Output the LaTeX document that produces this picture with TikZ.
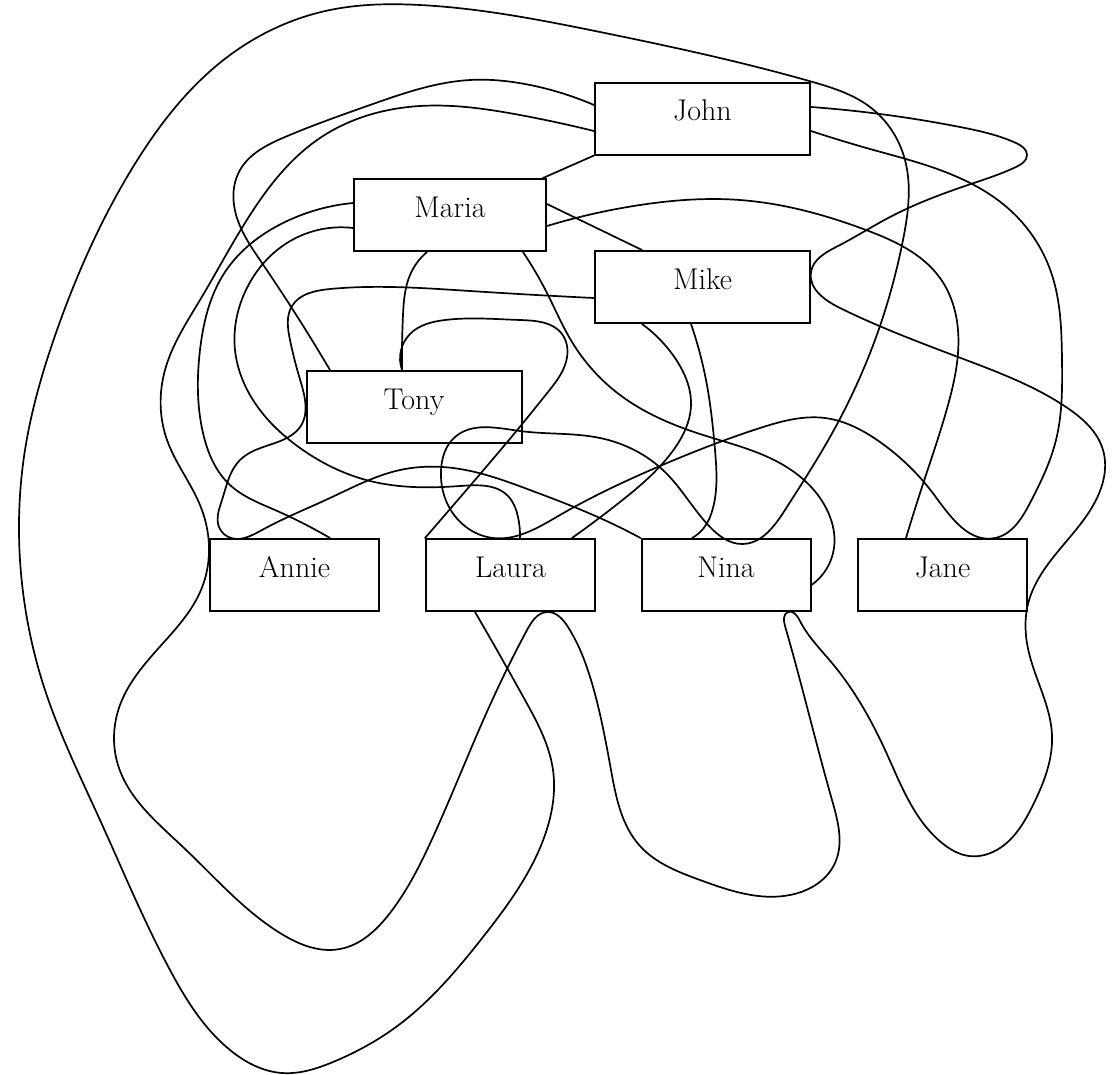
\documentclass[tikz,border=0pt]{standalone}
\usetikzlibrary{calc,hobby}
\begin{document}
\begin{tikzpicture}[x=1pt,y=-1pt,
  person/.style={draw, line width=2pt, inner sep=0pt, minimum height=72pt,
    text height=21pt, text depth=17pt, font=\fontsize{30}{32}\selectfont},
  wide/.style={person, minimum width=215pt},
  mid/.style={person, minimum width=192pt},
  narrow/.style={person, minimum width=169pt},
  edge/.style={line width=1.7pt, line join=round, line cap=round}]
\useasboundingbox (0,0) rectangle (1119,1074);

% people
\node[wide]   (John)  at (702.5,118.5) {John};
\node[mid]    (Maria) at (450,215)     {Maria};
\node[wide]   (Mike)  at (702.5,287)   {Mike};
\node[wide]   (Tony)  at (414,407)     {Tony};
\node[narrow] (Annie) at (294.5,575)   {Annie};
\node[narrow] (Laura) at (510.5,575)   {Laura};
\node[narrow] (Nina)  at (726,575)     {Nina};
\node[narrow] (Jane)  at (942.5,575)   {Jane};

% attachment points on the boxes
\coordinate (jW1) at (John.west |- 0,105);
\coordinate (jW2) at (John.west |- 0,131);
\coordinate (jE1) at (John.east |- 0,107);
\coordinate (jE2) at (John.east |- 0,131);
\coordinate (jSW) at (John.south west);
\coordinate (jNE) at (John.north east);
\coordinate (mN)  at (543,0 |- Maria.north);
\coordinate (mW1) at (Maria.west |- 0,203);
\coordinate (mW2) at (Maria.west |- 0,228);
\coordinate (mE1) at (Maria.east |- 0,204);
\coordinate (mE2) at (Maria.east |- 0,226);
\coordinate (mS1) at (427,0 |- Maria.south);
\coordinate (mS2) at (523,0 |- Maria.south);
\coordinate (kN)  at (642,0 |- Mike.north);
\coordinate (kW)  at (Mike.west |- 0,298);
\coordinate (kE)  at (Mike.east |- 0,272);
\coordinate (kS1) at (642,0 |- Mike.south);
\coordinate (kS2) at (691,0 |- Mike.south);
\coordinate (tN1) at (330,0 |- Tony.north);
\coordinate (tN2) at (402,0 |- Tony.north);
\coordinate (tW)  at (Tony.west |- 0,405);
\coordinate (aN1) at (231,0 |- Annie.north);
\coordinate (aN2) at (330,0 |- Annie.north);
\coordinate (aW)  at (Annie.west |- 0,553);
\coordinate (lNW) at (Laura.north west);
\coordinate (lN1) at (493,0 |- Laura.north);
\coordinate (lN2) at (520,0 |- Laura.north);
\coordinate (lN3) at (572,0 |- Laura.north);
\coordinate (lS1) at (475,0 |- Laura.south);
\coordinate (lS2) at (547,0 |- Laura.south);
\coordinate (nNW) at (Nina.north west);
\coordinate (nN1) at (692,0 |- Nina.north);
\coordinate (nN2) at (742,0 |- Nina.north);
\coordinate (nDip) at ($(nN2)+(0,6)$);
\coordinate (nE)  at (Nina.east |- 0,585);
\coordinate (nS)  at (788,0 |- Nina.south);
\coordinate (eN1) at (906,0 |- Jane.north);
\coordinate (eN2) at (995,0 |- Jane.north);
\coordinate (eSE) at (Jane.east |- 0,604);

% straight ties
\draw[edge] (jSW) -- (mN);
\draw[edge] (mE1) -- (kN);

% John -- Tony
\draw[edge] (jW1) to[curve through={(530,85) .. (470,80) .. (370,105) .. (285,137)
  .. (240,170) .. (234,205) .. (262,263)}] (tN1);

% Maria -- Tony
\draw[edge] (mS1) to[curve through={(410,275) .. (403,315)}] (tN2);

% Tony -- Laura
\draw[edge] (tN2) to[curve through={(410,334) .. (445,320) .. (520,320)
  .. (562,334) .. (566,362) .. (548,392) .. (523,423) .. (475,480)}] (lNW);

% Maria -- Annie
\draw[edge] (mW1) to[curve through={(285,222) .. (225,272) .. (200,350)
  .. (203,433) .. (230,485) .. (275,510)}] (aN2);

% Maria -- Laura
\draw[edge] (mW2) to[curve through={(292,240) .. (245,292) .. (235,350)
  .. (253,400) .. (300,448) .. (370,481) .. (460,486) .. (508,496)
  .. (518,517)}] (lN2);

% Maria -- Nina
\draw[edge] (mS2) to[curve through={(547,293) .. (572,342) .. (620,395)
  .. (700,434) .. (785,466) .. (828,512) .. (834,548)}] (nE);

% Maria -- Jane
\draw[edge] (mE2) to[curve through={(640,205) .. (740,200) .. (866,230)
  .. (940,278) .. (958,330) .. (948,405) .. (922,487)}] (eN1);

% Mike -- Tony -- Annie -- Nina
\draw[edge] (kW) to[curve through={(470,291) .. (330,289) .. (292,306)
  .. (290,340) .. (299,376) .. (tW) .. (302,424) .. (275,443) .. (240,460)
  .. (222,500) .. (219,527) .. (aN1) .. (262,530) .. (330,498) .. (400,470)
  .. (460,469) .. (530,490) .. (600,518)}] (nNW);

% Mike -- Laura
\draw[edge] (kS1) to[curve through={(675,358) .. (691,405) .. (672,452)
  .. (620,502)}] (lN3);

% Mike -- Nina
\draw[edge] (kS2) to[curve through={(706,380) .. (715,450) .. (713,508)
  .. (703,529)}] (nN1);

% Laura -- John -- Nina -- Laura -- Jane -- John (outer sweep)
\draw[edge] (lS1) to[curve through={(525,700) .. (553,770) .. (545,835)
  .. (483,937) .. (400,1024) .. (333,1062) .. (282,1073) .. (230,1050)
  .. (170,970) .. (100,820) .. (45,690) .. (20,560) .. (25,450) .. (57,330)
  .. (133,167) .. (230,55) .. (330,10) .. (420,5) .. (600,32) .. (jNE)
  .. (870,107) .. (905,160) .. (903,240) .. (875,340) .. (830,437)
  .. (785,510) .. (nDip) .. (710,527) .. (665,472) .. (600,438) .. (520,431)
  .. (455,437) .. (441,470) .. (452,512) .. (lN1) .. (560,515) .. (660,466)
  .. (760,428) .. (825,418) .. (880,442) .. (935,496) .. (eN2) .. (1030,503)
  .. (1056,440) .. (1062,360) .. (1052,275) .. (1010,210) .. (940,170)
  .. (870,149)}] (jE2);

% John -- Mike -- Jane -- Nina -- Laura -- Annie -- John (second sweep)
\draw[edge] (jE1) to[curve through={(880,114) .. (960,127) .. (1016,143)
  .. (1027,155) .. (1016,167) .. (965,186) .. (890,217) .. (838,246) .. (kE)
  .. (840,308) .. (966,360) .. (1066,407) .. (1103,450) .. (1096,500)
  .. (1055,555) .. (eSE) .. (1029,653) .. (1052,735) .. (1033,805)
  .. (1000,848) .. (969,856) .. (942,843) .. (886,752) .. (832,663)
  .. (800,621) .. (nS) .. (785,626) .. (806,703) .. (832,800) .. (835,863)
  .. (790,895) .. (700,880) .. (640,846) .. (611,770) .. (591,680)
  .. (568,627) .. (lS2) .. (527,630) .. (490,705) .. (433,837) .. (390,913)
  .. (340,949) .. (280,933) .. (183,847) .. (118,765) .. (120,705)
  .. (165,641) .. (201,590) .. (aW) .. (200,505) .. (167,440) .. (165,370)
  .. (200,300) .. (250,215) .. (320,138) .. (420,106) .. (520,115)}] (jW2);
\end{tikzpicture}
\end{document}
